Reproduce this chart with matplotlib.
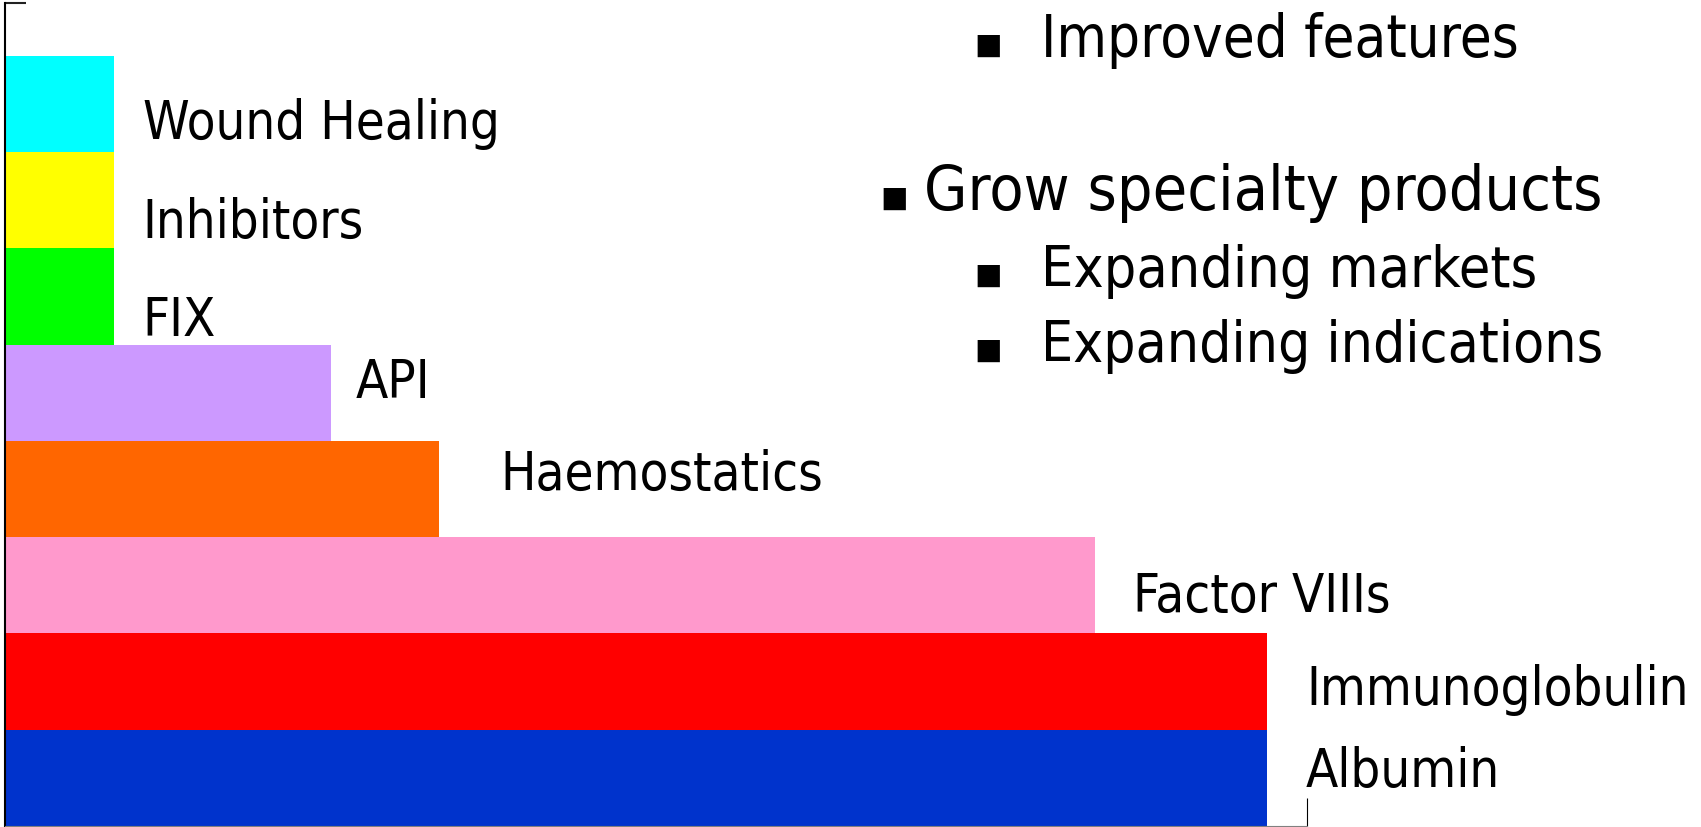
import matplotlib.pyplot as plt

# product segments, bottom to top
products = ["Albumin", "Immunoglobulin", "Factor VIIIs", "Haemostatics",
            "API", "FIX", "Inhibitors", "Wound Healing"]
sizes = [11.63, 11.63, 10.05, 4.0, 3.0, 1.0, 1.0, 1.0]
colors = ["#0033CC", "#FF0000", "#FF99CC", "#FF6600",
          "#CC99FF", "#00FF00", "#FFFF00", "#00FFFF"]

# where each label sits (x in bar units, baseline y)
label_x = [11.99, 11.99, 10.40, 4.57, 3.23, 1.27, 1.27, 1.27]
label_y = [0.415, 1.265, 2.23, 3.50, 4.46, 5.10, 6.12, 7.144]

# bullet points on the right
bullets = ["Improved features", "Grow specialty products",
           "Expanding markets", "Expanding indications"]

W, H = 1701, 828
fig = plt.figure(figsize=(W / 100, H / 100), dpi=100)
ax = fig.add_axes([5 / W, 1 / H, (1307 - 5) / W, (827 - 4) / H])

font = dict(family="DejaVu Sans", stretch="condensed")

ypos = list(range(len(products)))
ax.barh(ypos, sizes, height=1.0, align="edge", color=colors, zorder=2)

for name, x, y in zip(products, label_x, label_y):
    ax.text(x, y, name, fontsize=37.8, va="baseline", ha="left",
            clip_on=False, **font)

ax.set_xlim(0, 12)
ax.set_ylim(0, 8.55)

ax.spines["top"].set_visible(False)
ax.spines["right"].set_visible(False)
ax.spines["left"].set_linewidth(1.5)
ax.spines["left"].set_color("black")
ax.spines["bottom"].set_linewidth(0.8)
ax.spines["bottom"].set_color("#808080")

ax.set_xticks([12])
ax.set_yticks([8.55])
ax.set_xticklabels([])
ax.set_yticklabels([])
ax.tick_params(axis="x", direction="in", length=20, width=0.8, color="black")
ax.tick_params(axis="y", direction="in", length=15, width=1.5, color="#222222")

# bullet list: (bullet x, text x, baseline y, size) in pixels / points
rows = [(974, 1041, 57, 41.6),
        (880, 924, 210, 45),
        (974, 1041, 287, 41),
        (974, 1041, 362, 40.8)]
for text, (bx, tx, by, fs) in zip(bullets, rows):
    fig.text(bx / W, 1 - (by - 3) / H, "\u25A0", fontsize=21,
             va="baseline", ha="left", family="DejaVu Sans")
    fig.text(tx / W, 1 - by / H, text, fontsize=fs,
             va="baseline", ha="left", **font)

fig.savefig("out.png", dpi=100)
